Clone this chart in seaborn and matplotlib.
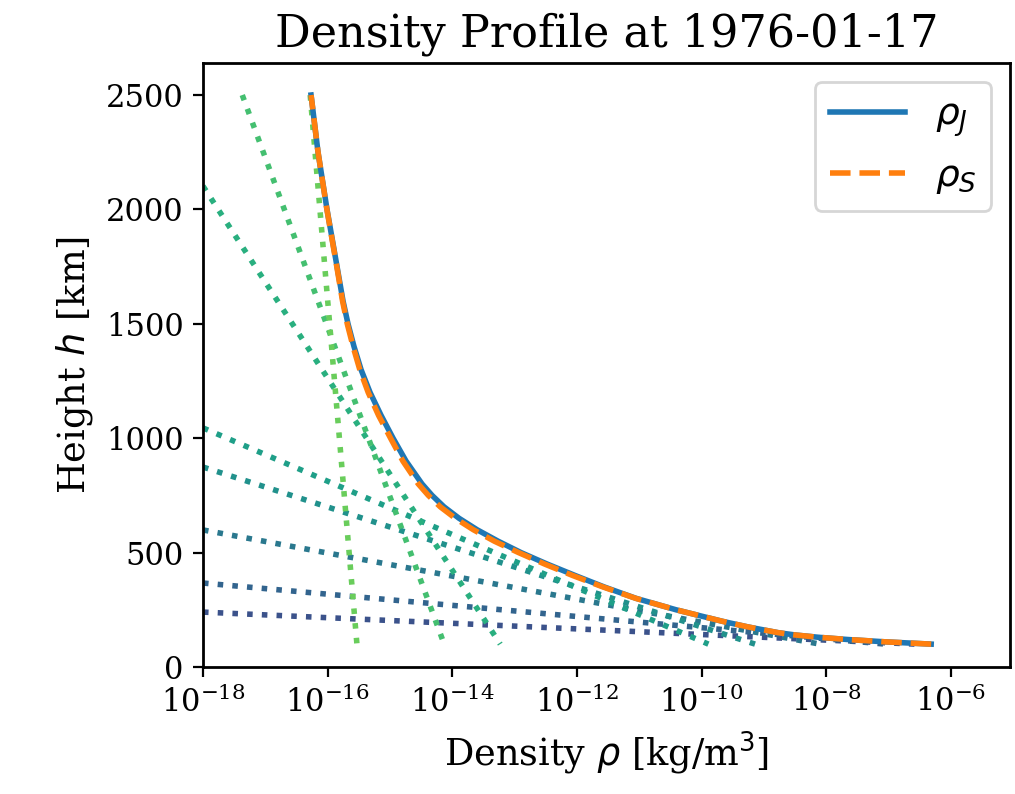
import matplotlib
matplotlib.use("Agg")
import matplotlib.pyplot as plt
import seaborn as sns
import pandas as pd

# main density profiles (height in km, log10 density in kg/m^3)
heights = [100, 110, 120, 130, 140, 150, 175, 200, 250, 300, 350, 400, 450,
           500, 550, 600, 650, 700, 750, 800, 900, 1000, 1100, 1200, 1300,
           1400, 1500, 1600, 1750, 2000, 2250, 2500]
log_rho_j = [-6.315, -7.053, -7.647, -8.128, -8.498, -8.770, -9.252, -9.669,
             -10.408, -11.050, -11.563, -12.029, -12.478, -12.896, -13.265,
             -13.602, -13.891, -14.132, -14.324, -14.485, -14.742, -14.950,
             -15.143, -15.319, -15.464, -15.576, -15.673, -15.753, -15.849,
             -16.010, -16.154, -16.266]
log_rho_s = [-6.315, -7.053, -7.647, -8.128, -8.498, -8.770, -9.252, -9.669,
             -10.408, -11.055, -11.583, -12.069, -12.518, -12.936, -13.325,
             -13.662, -13.951, -14.192, -14.384, -14.545, -14.792, -14.990,
             -15.183, -15.349, -15.484, -15.591, -15.685, -15.761, -15.853,
             -16.012, -16.154, -16.266]

# exponential fit segments (straight in log-linear), visible end points
fit_h_start = [240, 367, 599, 874, 1045, 2102, 2500, 2500]
fit_logrho_start = [-18.0, -18.0, -18.0, -18.0, -18.0, -18.0, -17.37, -16.28]
fit_h_end = [100, 100, 100, 100, 100, 100, 100, 100]
fit_logrho_end = [-6.57, -7.05, -8.10, -9.14, -9.89, -13.23, -14.13, -15.53]
fit_cvals = [0.25, 0.32, 0.40, 0.50, 0.56, 0.63, 0.70, 0.77]

plt.rcParams["font.family"] = ["DejaVu Serif"]
plt.rcParams["xtick.labelsize"] = 11
plt.rcParams["ytick.labelsize"] = 11
plt.rcParams["axes.linewidth"] = 1.0

fig = plt.figure(figsize=(5.075, 3.97), dpi=200)
ax = fig.add_axes([203 / 1015, 1 - 667 / 794, (1010 - 203) / 1015, (667 - 63) / 794])
ax.set_xscale("log")

cmap = plt.get_cmap("viridis")
for i in range(len(fit_h_start)):
    seg = pd.DataFrame({
        "rho": [10 ** fit_logrho_start[i], 10 ** fit_logrho_end[i]],
        "h": [fit_h_start[i], fit_h_end[i]],
    })
    sns.lineplot(data=seg, x="rho", y="h", sort=False, estimator=None, ax=ax,
                 color=cmap(fit_cvals[i]), linestyle=":", linewidth=2, legend=False)

df = pd.DataFrame({
    "h": heights,
    "rho_j": [10 ** v for v in log_rho_j],
    "rho_s": [10 ** v for v in log_rho_s],
})
sns.lineplot(data=df, x="rho_j", y="h", sort=False, estimator=None, ax=ax,
             color="#1f77b4", linewidth=2, label=r"$\rho_J$")
sns.lineplot(data=df, x="rho_s", y="h", sort=False, estimator=None, ax=ax,
             color="#ff7f0e", linestyle="--", linewidth=2, label=r"$\rho_S$")

ax.set_xlim(1e-18, 10 ** -5.05)
ax.set_ylim(0, 2640)
ax.set_yticks([0, 500, 1000, 1500, 2000, 2500])
ax.set_xticks([1e-18, 1e-16, 1e-14, 1e-12, 1e-10, 1e-8, 1e-6])
ax.minorticks_off()
ax.set_xlabel(r"Density $\rho$ [kg/m$^3$]", fontsize=13.2)
ax.set_ylabel(r"Height $h$ [km]", fontsize=13.2)
ax.set_title("Density Profile at 1976-01-17", fontsize=16)
ax.legend(loc="upper right", fontsize=13.5)

fig.savefig("out.png", dpi=200)
